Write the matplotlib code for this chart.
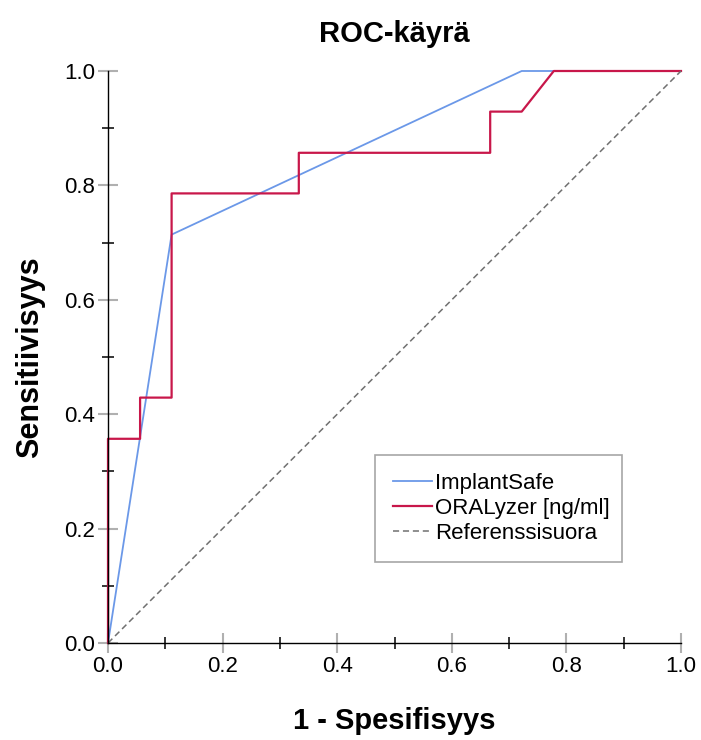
import matplotlib
matplotlib.use("Agg")
import matplotlib.pyplot as plt
from matplotlib.ticker import MultipleLocator

plt.rcParams['font.family'] = ['Liberation Sans', 'DejaVu Sans']

# ROC-pisteet (1 - spesifisyys, sensitiivisyys)
implant_fpr = [0.0, 0.111, 0.722, 1.0]
implant_tpr = [0.0, 0.714, 1.0, 1.0]

oral_fpr = [0.0, 0.0, 0.056, 0.056, 0.111, 0.111, 0.333, 0.333,
            0.667, 0.667, 0.722, 0.778, 1.0]
oral_tpr = [0.0, 0.357, 0.357, 0.429, 0.429, 0.786, 0.786, 0.857,
            0.857, 0.929, 0.929, 1.0, 1.0]

ref_line = [0.0, 1.0]

labels = ['ImplantSafe', 'ORALyzer [ng/ml]', 'Referenssisuora']

fig = plt.figure(figsize=(7.01, 7.40), dpi=100)
ax = fig.add_axes([108/701, 97/740, 573/701, 572/740])

ax.plot(implant_fpr, implant_tpr, color='#6b98e8', lw=1.3, label=labels[0], clip_on=False)
ax.plot(oral_fpr, oral_tpr, color='#c8174a', lw=1.6, label=labels[1], clip_on=False)
ax.plot(ref_line, ref_line, color='#707070', lw=1.1, ls=(0, (4, 2.5)), label=labels[2], clip_on=False)

ax.set_xlim(0, 1)
ax.set_ylim(0, 1)
ax.xaxis.set_major_locator(MultipleLocator(0.2))
ax.yaxis.set_major_locator(MultipleLocator(0.2))
ax.xaxis.set_minor_locator(MultipleLocator(0.1))
ax.yaxis.set_minor_locator(MultipleLocator(0.1))
ax.xaxis.set_major_formatter(plt.FormatStrFormatter('%.1f'))
ax.yaxis.set_major_formatter(plt.FormatStrFormatter('%.1f'))

for s in ['top', 'right']:
    ax.spines[s].set_visible(False)
for s in ['left', 'bottom']:
    ax.spines[s].set_color('black')
    ax.spines[s].set_linewidth(1.0)

ax.tick_params(which='major', direction='inout', length=14, width=1.5,
               color='#b0b0b0', labelsize=16, pad=2)
ax.tick_params(which='minor', direction='inout', length=8, width=1.1, color='black')

ax.set_title('ROC-käyrä', fontsize=21, fontweight='bold', pad=21)
ax.set_xlabel('1 - Spesifisyys', fontsize=21, fontweight='bold', labelpad=22)
ax.set_ylabel('Sensitiivisyys', fontsize=22, fontweight='bold', labelpad=14)

leg = ax.legend(loc='lower left', bbox_to_anchor=(0.466, 0.1416, 0.431, 0.19),
                mode='expand', fontsize=16, frameon=True, fancybox=False,
                handlelength=1.75, handletextpad=0.15, borderpad=0.8,
                labelspacing=0.18, borderaxespad=0)
leg.get_frame().set_edgecolor('#909090')
leg.get_frame().set_linewidth(1.2)

fig.savefig('out.png', dpi=100)
